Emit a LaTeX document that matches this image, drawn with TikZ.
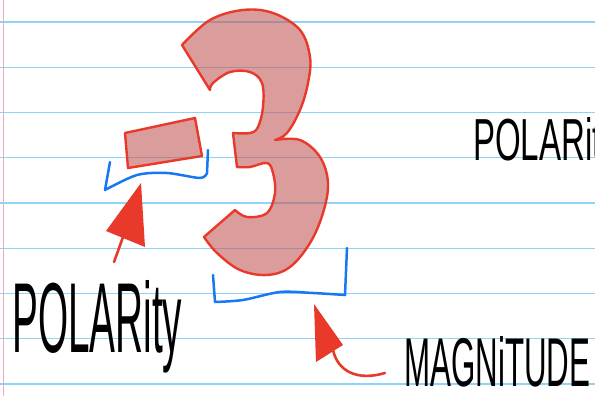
\documentclass[tikz,border=0pt]{standalone}
\usepackage{fontspec}
\setmainfont{Liberation Sans}
\usepackage{graphicx}
\definecolor{rule}{HTML}{8ED4F6}
\definecolor{margin}{HTML}{F4A6BE}
\definecolor{ink}{HTML}{E8392A}
\definecolor{blush}{HTML}{C45A5A}
\definecolor{brace}{HTML}{1877F2}

\begin{document}
\begin{tikzpicture}[x=1pt,y=-1pt,line cap=round,line join=round,
  hand/.style={anchor=base west,inner sep=0pt},
  shape3/.style={draw=ink,line width=2.4pt,fill=blush,fill opacity=.6},
  bracket/.style={draw=brace,line width=2.5pt}]
\clip (0,0) rectangle (595,396);
\fill[white] (0,0) rectangle (595,396);
\foreach \i in {0,...,8}
  \draw[rule,line width=1.3pt] (0,22+45.25*\i) -- (595,22+45.25*\i);
\draw[margin,line width=1pt] (3,0) -- (3,396);

\path[shape3] (182,45)
  -- plot[smooth,tension=0.6] coordinates {(182,45) (210,20) (243,10) (273,13) (300,30) (310,57) (308,83) (300,110) (287,133) (275,140)}
  -- plot[smooth,tension=0.6] coordinates {(275,140) (300,140) (320,157) (328,183) (323,213) (310,243) (290,267) (267,275) (240,270) (217,253) (204,237)}
  -- (235,210)
  -- plot[smooth,tension=0.6] coordinates {(235,210) (247,217) (267,213) (275,193) (273,173) (267,163) (250,167) (237,167)}
  -- (233,133)
  -- plot[smooth,tension=0.6] coordinates {(233,133) (250,133) (258,127) (263,107) (262,83) (250,72) (230,72) (213,83) (210,90)}
  -- cycle;
\path[shape3] (125,133) -- (195,118) -- (202,156) -- (128,168) -- cycle;

\draw[bracket] (110,162) -- (105,190)
  -- plot[smooth] coordinates {(105,190) (137,175) (167,173) (200,178) (207,173)} -- (208,150);
\draw[bracket] (213,275) -- (215,302)
  -- plot[smooth] coordinates {(215,302) (243,300) (280,292) (313,293) (345,295)} -- (347,248);

\coordinate (tipL) at (141,183);
\coordinate (tipM) at (314,304);
\fill[ink] (tipL) -- (106,231) -- (145,247) -- cycle;
\draw[ink,line width=2.6pt] (114,262) -- (127,226);
\fill[ink] (tipM) -- (316,362) -- (343,345) -- cycle;
\draw[ink,line width=2.6pt] (333,350) .. controls (338,372) and (358,381) .. (385,373);

\node[hand] (polarity) at (12,352) {\resizebox{170pt}{72pt}{POLARity}};
\node[hand] (magnitude) at (404,386) {\resizebox{186pt}{50pt}{MAGNiTUDE}};
\node[hand] (polarity2) at (473,160) {\resizebox{145pt}{43pt}{POLARity}};
\end{tikzpicture}
\end{document}
